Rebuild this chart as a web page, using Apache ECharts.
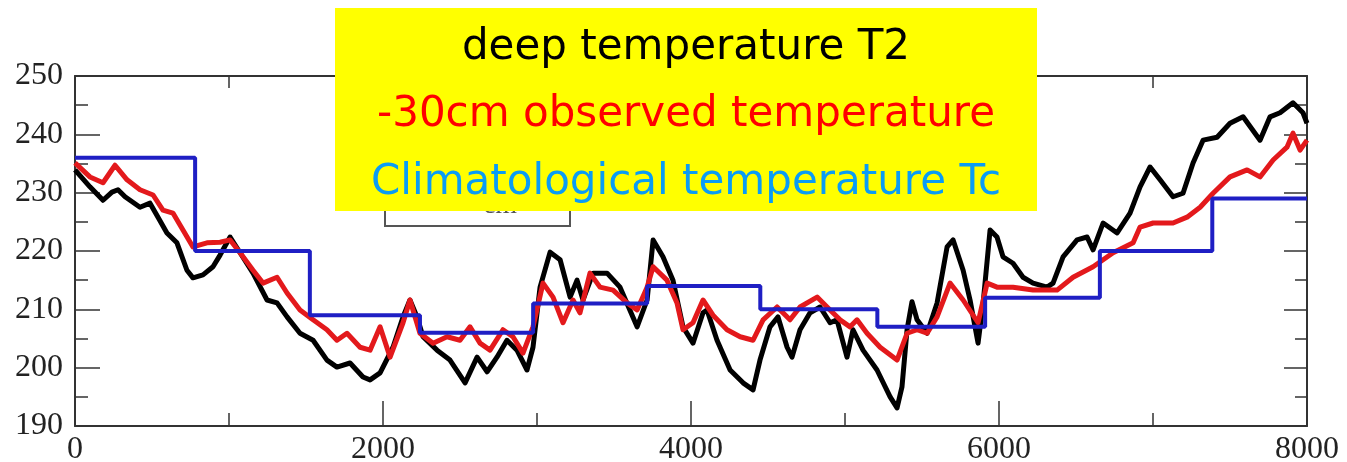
<!DOCTYPE html>
<html>
<head>
<meta charset="utf-8">
<script src="https://cdn.jsdelivr.net/npm/echarts@6/dist/echarts.min.js"></script>
<style>
html,body{margin:0;padding:0;background:#fff;}
#chart{width:1347px;height:462px;}
</style>
</head>
<body>
<div id="chart"></div>
<script>
// ---- data ----
const legendLabels = ['deep temperature T2', '-30cm observed temperature', 'Climatological temperature Tc'];

const t2X = [0,97,182,240,279,325,422,487,539,597,662,727,766,831,896,942,1007,1072,1156,1247,1312,1377,1461,1546,1636,1701,1786,1870,1916,1981,2065,2130,2175,2221,2260,2351,2435,2533,2611,2676,2740,2805,2870,2935,2974,3020,3085,3150,3215,3260,3299,3364,3455,3539,3650,3715,3754,3818,3883,3948,4013,4078,4104,4169,4254,4338,4403,4448,4513,4565,4624,4656,4708,4773,4838,4903,4948,5013,5052,5117,5208,5293,5338,5370,5403,5435,5468,5533,5598,5663,5702,5767,5812,5864,5897,5942,5987,6026,6091,6156,6221,6312,6351,6416,6507,6572,6611,6676,6767,6851,6916,6981,7046,7130,7195,7260,7325,7416,7500,7585,7695,7760,7825,7909,7974,8000];
const t2Y = [233.9,231.0,228.7,230.1,230.5,229.3,227.5,228.2,225.8,223.1,221.4,216.7,215.4,215.9,217.3,219.3,222.4,219.7,216.2,211.6,211.1,208.7,205.9,204.7,201.3,200.1,200.8,198.4,197.9,199.1,203.5,208.7,211.6,208.7,205.3,203.0,201.3,197.4,201.8,199.3,201.8,204.7,203.0,199.6,203.5,213.8,219.8,218.5,212.1,215.0,211.6,216.2,216.2,213.8,207.0,211.6,221.9,219.0,215.0,207.0,204.2,209.4,209.9,204.7,199.6,197.4,196.2,201.3,207.0,208.7,203.5,201.8,206.5,209.4,210.4,207.7,208.2,201.8,206.5,203.0,199.6,195.0,193.1,196.7,206.5,211.3,208.2,205.9,211.1,220.7,221.9,216.7,211.6,204.2,211.1,223.6,222.4,219.0,217.9,215.5,214.5,213.8,214.5,219.0,221.9,222.4,220.2,224.8,223.1,226.5,231.0,234.4,232.2,229.3,229.9,235.1,239.0,239.5,241.9,243.0,239.0,243.0,243.7,245.4,243.7,241.9];

const obsX = [0,97,182,260,338,422,507,571,636,701,766,857,942,1007,1072,1156,1221,1312,1377,1461,1546,1636,1701,1766,1851,1916,1981,2046,2130,2175,2240,2325,2416,2500,2565,2630,2695,2779,2844,2909,2974,3039,3104,3169,3234,3279,3344,3409,3494,3585,3650,3715,3754,3844,3909,3948,4013,4078,4143,4234,4319,4403,4468,4559,4643,4708,4819,4903,4968,5033,5078,5143,5228,5338,5403,5468,5533,5598,5682,5767,5864,5923,5987,6091,6221,6377,6481,6611,6741,6871,6916,7001,7130,7221,7306,7390,7500,7611,7695,7780,7870,7909,7955,8000];
const obsY = [235.1,232.7,231.7,234.7,232.2,230.5,229.6,227.0,226.5,223.6,220.7,221.4,221.5,221.9,219.7,216.7,214.5,215.5,212.8,209.9,208.2,206.5,204.7,205.9,203.5,203.0,207.0,201.8,207.7,211.6,205.9,204.2,205.3,204.7,207.0,204.2,203.0,206.5,205.3,202.5,207.0,214.5,212.1,207.7,211.6,209.4,216.2,213.8,213.3,211.1,209.9,213.8,217.3,215.0,211.1,206.5,207.7,211.6,209.0,206.5,205.3,204.7,208.2,210.4,208.2,210.4,212.1,209.9,208.2,207.0,208.2,205.9,203.5,201.3,205.9,206.5,205.9,208.7,214.5,211.6,207.7,214.5,213.8,213.8,213.3,213.3,215.5,217.3,219.7,221.4,224.1,224.8,224.8,225.8,227.5,229.9,232.7,233.9,232.7,235.6,237.8,240.2,237.3,239.0];

// climatological temperature: value holds from each start to the next start
const tcStart = [0,780,1525,2240,2975,3715,4450,5210,5910,6655,7385,8000];
const tcValue = [236,220,209,206,211,214,210,207,212,220,229,229];

const xMin = 0, xMax = 8000, xInterval = 2000;
const yMin = 190, yMax = 250, yInterval = 10;

// ---- chart ----
const zip = (a, b) => a.map((v, i) => [v, b[i]]);
const chart = echarts.init(document.getElementById('chart'), null, {renderer: 'canvas'});

const axisCol = '#333';
const labelFont = {fontFamily: 'Liberation Serif', fontSize: 32, color: '#222', formatter: v => String(v)};

const baseX = {
  type: 'value', min: xMin, max: xMax, interval: xInterval,
  axisLine: {show: true, onZero: false, lineStyle: {color: axisCol, width: 2}},
  axisTick: {show: true, inside: true, length: 25, lineStyle: {color: axisCol, width: 1.5}},
  minorTick: {show: true, splitNumber: 2, length: 13, lineStyle: {color: axisCol, width: 1.5}},
  splitLine: {show: false}, minorSplitLine: {show: false}
};
const baseY = {
  type: 'value', min: yMin, max: yMax, interval: yInterval,
  axisLine: {show: true, onZero: false, lineStyle: {color: axisCol, width: 2}},
  axisTick: {show: true, inside: true, length: 25, lineStyle: {color: axisCol, width: 1.5}},
  minorTick: {show: true, splitNumber: 2, length: 13, lineStyle: {color: axisCol, width: 1.5}},
  splitLine: {show: false}, minorSplitLine: {show: false}
};

chart.setOption({
  animation: false,
  backgroundColor: '#fff',
  grid: {left: 75, right: 40, top: 76, bottom: 36, containLabel: false, outerBoundsMode: 'none'},
  xAxis: [
    Object.assign({}, baseX, {position: 'bottom', axisLabel: Object.assign({show: true, margin: 8}, labelFont)}),
    Object.assign({}, baseX, {position: 'top', axisLabel: {show: false},
      axisTick: {show: true, inside: true, length: 12, lineStyle: {color: axisCol, width: 1.5}},
      minorTick: {show: true, splitNumber: 2, length: 12, lineStyle: {color: axisCol, width: 1.5}}})
  ],
  yAxis: [
    Object.assign({}, baseY, {position: 'left', axisLabel: Object.assign({show: true, margin: 12}, labelFont)}),
    Object.assign({}, baseY, {position: 'right', axisLabel: {show: false},
      axisTick: {show: true, inside: true, length: 23, lineStyle: {color: axisCol, width: 1.5}},
      minorTick: {show: true, splitNumber: 2, length: 12, lineStyle: {color: axisCol, width: 1.5}}})
  ],
  series: [
    {name: legendLabels[0], type: 'line', data: zip(t2X, t2Y), showSymbol: false, z: 2,
     lineStyle: {color: '#000', width: 5, join: 'round'}},
    {name: legendLabels[1], type: 'line', data: zip(obsX, obsY), showSymbol: false, z: 3,
     lineStyle: {color: '#e3191c', width: 5, join: 'round'}},
    {name: legendLabels[2], type: 'line', step: 'end', data: zip(tcStart, tcValue), showSymbol: false, z: 4,
     lineStyle: {color: '#1f1fc4', width: 4}}
  ],
  graphic: [
    {type: 'rect', z: 50, shape: {x: 385, y: 140, width: 185, height: 86},
     style: {fill: 'none', stroke: '#555', lineWidth: 2}},
    {type: 'text', z: 51, x: 500, y: 206,
     style: {text: 'cm', fill: '#555', font: '28px "Liberation Serif"', align: 'center', verticalAlign: 'middle'}},
    {type: 'rect', z: 100, shape: {x: 335, y: 8, width: 702, height: 203}, style: {fill: '#ffff00'}},
    {type: 'text', z: 101, x: 686, y: 48,
     style: {text: legendLabels[0], fill: '#000', font: '42px "DejaVu Sans"', align: 'center', verticalAlign: 'middle'}},
    {type: 'text', z: 101, x: 686, y: 115,
     style: {text: legendLabels[1], fill: '#ff0000', font: '42px "DejaVu Sans"', align: 'center', verticalAlign: 'middle'}},
    {type: 'text', z: 101, x: 686, y: 183,
     style: {text: legendLabels[2], fill: '#0a9cf5', font: '42px "DejaVu Sans"', align: 'center', verticalAlign: 'middle'}}
  ]
});
</script>
</body>
</html>
